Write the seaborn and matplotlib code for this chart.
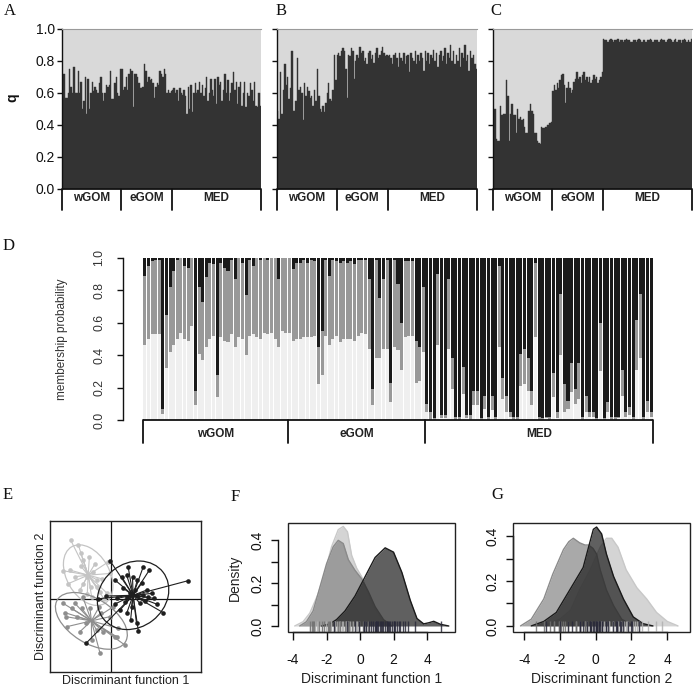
import numpy as np
import pandas as pd
import matplotlib
matplotlib.use("Agg")
import matplotlib.pyplot as plt
import seaborn as sns
from matplotlib.patches import Ellipse, Rectangle

groups = ["wGOM", "eGOM", "MED"]

# ---------------- Panels A-C : q per individual ----------------
qA_wgom = [0.47, 0.72, 0.57, 0.57, 0.60, 0.75, 0.64, 0.60, 0.76, 0.60, 0.60, 0.74, 0.60, 0.67, 0.50,
           0.55, 0.70, 0.47, 0.69, 0.50, 0.60, 0.67, 0.61, 0.64, 0.62, 0.60, 0.66, 0.70, 0.60, 0.55,
           0.60, 0.65, 0.64, 0.65, 0.74, 0.56, 0.56, 0.66, 0.70, 0.60, 0.58, 0.75]
qA_egom = [0.75, 0.62, 0.64, 0.70, 0.62, 0.72, 0.75, 0.74, 0.51, 0.72, 0.72, 0.70, 0.66, 0.63, 0.63,
           0.64, 0.78, 0.74, 0.67, 0.70, 0.68, 0.69, 0.66, 0.57, 0.64, 0.66, 0.65, 0.74, 0.72, 0.70,
           0.75, 0.72, 0.60, 0.62, 0.60, 0.61]
qA_med = [0.62, 0.63, 0.60, 0.62, 0.55, 0.63, 0.60, 0.59, 0.62, 0.58, 0.47, 0.64, 0.50, 0.65, 0.48,
          0.60, 0.66, 0.60, 0.62, 0.67, 0.60, 0.65, 0.58, 0.63, 0.70, 0.55, 0.60, 0.69, 0.62, 0.58,
          0.69, 0.53, 0.70, 0.65, 0.67, 0.55, 0.62, 0.72, 0.60, 0.68, 0.55, 0.60, 0.66, 0.73, 0.62,
          0.67, 0.53, 0.64, 0.67, 0.52, 0.60, 0.67, 0.51, 0.60, 0.58, 0.66, 0.62, 0.55, 0.67, 0.52,
          0.51, 0.60, 0.52]

qB_wgom = [0.49, 0.44, 0.73, 0.47, 0.62, 0.78, 0.65, 0.70, 0.56, 0.63, 0.86, 0.49, 0.49, 0.55, 0.82,
           0.62, 0.64, 0.60, 0.43, 0.66, 0.58, 0.64, 0.61, 0.57, 0.58, 0.52, 0.62, 0.55, 0.75, 0.58,
           0.50, 0.48, 0.52, 0.48, 0.54, 0.60, 0.66, 0.56, 0.55, 0.62, 0.84, 0.68]
qB_egom = [0.84, 0.85, 0.83, 0.86, 0.88, 0.86, 0.75, 0.57, 0.84, 0.83, 0.88, 0.86, 0.69, 0.80, 0.84,
           0.82, 0.89, 0.85, 0.86, 0.80, 0.82, 0.78, 0.85, 0.86, 0.81, 0.84, 0.79, 0.85, 0.88, 0.82,
           0.84, 0.86, 0.89, 0.85, 0.83, 0.84]
qB_med = [0.83, 0.84, 0.82, 0.78, 0.84, 0.85, 0.82, 0.76, 0.85, 0.82, 0.80, 0.85, 0.78, 0.83, 0.84,
          0.73, 0.85, 0.82, 0.80, 0.86, 0.78, 0.84, 0.80, 0.85, 0.82, 0.74, 0.86, 0.80, 0.85, 0.78,
          0.84, 0.82, 0.87, 0.80, 0.85, 0.76, 0.84, 0.86, 0.80, 0.83, 0.88, 0.78, 0.85, 0.82, 0.90,
          0.80, 0.86, 0.78, 0.84, 0.80, 0.88, 0.76, 0.85, 0.82, 0.90, 0.80, 0.84, 0.74, 0.86, 0.82,
          0.84, 0.78, 0.75]

qC_wgom = [0.33, 0.50, 0.31, 0.30, 0.30, 0.52, 0.46, 0.47, 0.47, 0.68, 0.58, 0.30, 0.47, 0.53, 0.46,
           0.46, 0.35, 0.50, 0.44, 0.45, 0.43, 0.44, 0.39, 0.35, 0.35, 0.49, 0.53, 0.49, 0.47, 0.35,
           0.35, 0.30, 0.29, 0.28, 0.39, 0.38, 0.38, 0.39, 0.40, 0.40, 0.41, 0.42]
qC_egom = [0.61, 0.65, 0.62, 0.66, 0.63, 0.68, 0.71, 0.72, 0.65, 0.54, 0.63, 0.67, 0.63, 0.60, 0.62,
           0.67, 0.69, 0.73, 0.69, 0.70, 0.66, 0.71, 0.73, 0.68, 0.70, 0.67, 0.70, 0.66, 0.68, 0.71,
           0.69, 0.70, 0.66, 0.68, 0.70, 0.73]
qC_med = [0.94, 0.93, 0.93, 0.92, 0.93, 0.94, 0.93, 0.92, 0.93, 0.93, 0.94, 0.92, 0.93, 0.93, 0.92,
          0.93, 0.94, 0.93, 0.93, 0.92, 0.92, 0.93, 0.93, 0.92, 0.93, 0.94, 0.93, 0.92, 0.93, 0.93,
          0.92, 0.93, 0.93, 0.94, 0.93, 0.92, 0.93, 0.93, 0.93, 0.92, 0.93, 0.94, 0.93, 0.93, 0.92,
          0.93, 0.94, 0.94, 0.93, 0.92, 0.93, 0.94, 0.92, 0.93, 0.93, 0.91, 0.93, 0.94, 0.93, 0.92,
          0.93, 0.92, 0.94]

# ---------------- Panel D : membership probability ----------------
# cumulative: light = cluster 1, light+gray = cluster 1 + 2, black = remainder
memb_light_wgom = [0.46, 0.50, 0.53, 0.53, 0.53, 0.04, 0.32, 0.42, 0.46, 0.50, 0.54, 0.50, 0.49, 0.58, 0.09,
                   0.41, 0.37, 0.45, 0.50, 0.52, 0.14, 0.51, 0.49, 0.48, 0.53, 0.45, 0.51, 0.50, 0.40, 0.52,
                   0.53, 0.51, 0.50, 0.54, 0.53, 0.54, 0.50, 0.45, 0.55, 0.54]
memb_lg_wgom = [0.89, 0.95, 0.98, 0.99, 0.99, 0.07, 0.65, 0.82, 0.92, 0.99, 1.00, 0.95, 0.94, 1.00, 0.18,
                0.82, 0.73, 0.88, 0.97, 0.96, 0.28, 0.97, 0.94, 0.92, 0.99, 0.87, 1.00, 0.97, 0.77, 0.99,
                0.95, 1.00, 0.99, 1.00, 0.99, 1.00, 1.00, 0.87, 1.00, 1.00]
memb_light_egom = [0.54, 0.49, 0.50, 0.50, 0.51, 0.51, 0.51, 0.52, 0.22, 0.28, 0.52, 0.46, 0.50, 0.52, 0.48,
                   0.50, 0.50, 0.50, 0.49, 0.52, 0.54, 0.53, 0.44, 0.09, 0.38, 0.38, 0.44, 0.44, 0.11, 0.45,
                   0.43, 0.31, 0.51, 0.52, 0.52, 0.23, 0.24, 0.42]
memb_lg_egom = [1.00, 0.93, 0.97, 0.97, 0.99, 0.97, 0.99, 0.98, 0.45, 0.55, 0.99, 0.89, 0.99, 0.98, 0.97,
                0.98, 0.97, 0.98, 0.96, 0.99, 0.99, 0.99, 0.87, 0.19, 0.99, 0.75, 0.87, 0.99, 0.23, 0.99,
                0.84, 0.60, 0.98, 0.98, 0.98, 0.49, 0.45, 0.82]
memb_light_med = [0.05, 0.00, 0.00, 0.46, 0.01, 0.01, 0.44, 0.19, 0.00, 0.00, 0.16, 0.01, 0.00, 0.09, 0.09,
                  0.00, 0.07, 0.00, 0.06, 0.00, 0.45, 0.13, 0.05, 0.02, 0.00, 0.00, 0.21, 0.22, 0.18, 0.09,
                  0.51, 0.00, 0.00, 0.01, 0.00, 0.14, 0.01, 0.40, 0.05, 0.07, 0.17, 0.10, 0.13, 0.00, 0.05,
                  0.02, 0.02, 0.00, 0.30, 0.00, 0.05, 0.00, 0.00, 0.01, 0.15, 0.02, 0.03, 0.00, 0.31, 0.38,
                  0.00, 0.05, 0.02]
memb_lg_med = [0.10, 0.05, 0.01, 0.90, 0.03, 0.03, 0.87, 0.38, 0.02, 0.02, 0.33, 0.03, 0.03, 0.18, 0.18,
               0.01, 0.15, 0.02, 0.15, 0.02, 0.95, 0.26, 0.15, 0.05, 0.02, 0.02, 0.41, 0.44, 0.38, 0.18,
               0.97, 0.02, 0.01, 0.02, 0.02, 0.29, 0.05, 0.78, 0.22, 0.12, 0.35, 0.19, 0.35, 0.02, 0.15,
               0.05, 0.05, 0.01, 0.60, 0.01, 0.11, 0.02, 0.02, 0.02, 0.31, 0.05, 0.08, 0.02, 0.62, 0.78,
               0.02, 0.12, 0.05]

# ---------------- Panel E : DAPC scores ----------------
e_light_x = [-2.52, -2.04, -1.73, -1.35, -1.88, -2.98, -2.56, -2.25, -1.52, -1.10, -0.85, -0.58, -1.73,
             -1.27, -0.85, -1.94, -1.48, -0.69, -0.23, -0.44, -1.90, -1.00, -0.05, -1.20, -2.70, -0.20]
e_light_y = [3.69, 3.38, 2.44, 2.60, 2.06, 1.77, 1.81, 1.40, 1.40, 1.71, 1.19, 1.27, 0.94,
             0.73, 0.73, 0.56, 0.31, 0.46, 0.35, 0.02, 2.90, 2.20, 1.60, 0.10, 0.95, 2.30]
e_mid_x = [-2.98, -2.88, -2.83, -2.46, -2.25, -1.77, -1.83, -2.15, -1.31, -0.73, -0.65, -0.06, 0.15,
           -1.56, -1.94, -0.90, -0.48, 0.46, 0.25, -1.21, -2.77, 0.88, 0.35, -0.69]
e_mid_y = [-0.27, -0.85, -1.10, -0.58, -0.27, 0.15, -0.58, -1.10, -0.58, -0.48, -0.90, -1.10, -0.48,
           -1.52, -2.04, -1.94, -2.04, -1.83, -2.35, -2.56, -1.73, -2.88, -2.35, -3.35]
e_dark_x = [-0.06, 1.08, 2.02, 2.40, 4.83, 0.25, 0.67, 0.98, 1.35, 1.65, 1.92, 2.23, 2.54, 2.69, 2.33,
            2.02, 3.27, 1.71, 1.60, 1.23, 0.98, 0.56, 0.25, -0.31, -0.79, -1.56, 0.77, 1.19, 1.50, 1.81,
            0.88, 0.35, 2.85, 1.29, 1.00, 1.60, 2.10]
e_dark_y = [2.40, 1.98, 2.02, 1.81, 1.15, 1.19, 1.40, 1.50, 1.35, 1.19, 0.98, 0.56, 0.35, 0.04, 0.10,
            0.25, -0.85, -1.98, -1.52, -1.31, -0.90, -0.69, -0.31, 0.19, 0.02, -2.77, 0.67, 0.35, 0.56, -0.27,
            -0.17, 0.04, -0.31, -0.48, 0.10, 0.20, -0.10]

# ---------------- Panels F-G : densities ----------------
f_light_x = [-3.9, -3.4, -3.0, -2.5, -2.1, -1.7, -1.3, -1.0, -0.75, -0.5, -0.2, 0.1, 0.4, 0.8, 1.3, 1.9]
f_light_y = [0.0, 0.02, 0.06, 0.15, 0.25, 0.37, 0.45, 0.465, 0.44, 0.33, 0.27, 0.23, 0.17, 0.09, 0.03, 0.0]
f_mid_x = [-3.6, -3.2, -2.8, -2.4, -2.0, -1.6, -1.3, -1.0, -0.7, -0.3, 0.1, 0.5, 0.9, 1.4, 1.9]
f_mid_y = [0.0, 0.02, 0.07, 0.18, 0.29, 0.37, 0.40, 0.385, 0.31, 0.26, 0.22, 0.16, 0.09, 0.03, 0.0]
f_dark_x = [-2.3, -1.8, -1.4, -0.9, -0.3, 0.3, 0.9, 1.5, 2.0, 2.5, 3.0, 3.4, 3.8, 4.1, 4.4, 4.8, 5.3]
f_dark_y = [0.0, 0.01, 0.03, 0.07, 0.14, 0.23, 0.32, 0.365, 0.345, 0.25, 0.12, 0.035, 0.01, 0.015, 0.022, 0.008, 0.0]

g_mid_x = [-4.2, -3.6, -2.9, -2.4, -1.8, -1.5, -1.25, -0.9, -0.6, -0.4, -0.15, 0.05, 0.25, 0.6, 1.0, 1.45, 2.1]
g_mid_y = [0.0, 0.03, 0.12, 0.23, 0.34, 0.375, 0.39, 0.37, 0.36, 0.36, 0.345, 0.32, 0.25, 0.16, 0.09, 0.03, 0.0]
g_light_x = [-2.9, -2.0, -1.4, -0.9, -0.3, 0.25, 0.6, 0.9, 1.25, 1.7, 2.3, 2.85, 3.4, 4.0, 4.6]
g_light_y = [0.0, 0.03, 0.07, 0.16, 0.25, 0.35, 0.39, 0.39, 0.35, 0.25, 0.17, 0.12, 0.06, 0.02, 0.0]
g_dark_x = [-3.6, -2.9, -2.2, -1.6, -1.15, -0.7, -0.4, -0.13, 0.05, 0.33, 0.6, 1.0, 1.55, 2.1, 2.65, 3.2]
g_dark_y = [0.0, 0.02, 0.06, 0.14, 0.2, 0.26, 0.35, 0.43, 0.44, 0.41, 0.32, 0.22, 0.12, 0.04, 0.01, 0.0]

# ---------------- styling ----------------
sns.set_theme(style="ticks")
plt.rcParams["font.family"] = ["Liberation Sans", "DejaVu Sans"]
plt.rcParams["axes.unicode_minus"] = False
plt.rcParams.update({"axes.edgecolor": "#111111", "xtick.color": "#111111", "ytick.color": "#111111",
                     "text.color": "#111111", "axes.labelcolor": "#111111", "axes.linewidth": 1.0})

W, H = 696, 692
fig = plt.figure(figsize=(W / 100, H / 100), dpi=100)


def px_axes(x0, y0, x1, y1):
    return fig.add_axes([x0 / W, 1 - y1 / H, (x1 - x0) / W, (y1 - y0) / H])


def bracket(ax, sizes, drop, lab_off, fs, lw=1.3):
    bounds = np.concatenate([[0], np.cumsum(sizes)]) - 0.5
    tr = ax.get_xaxis_transform()
    ax.plot([bounds[0], bounds[-1]], [0, 0], transform=tr, color="#111111", lw=lw, clip_on=False,
            solid_capstyle="butt")
    for b in bounds:
        ax.plot([b, b], [0, -drop], transform=tr, color="#111111", lw=lw, clip_on=False)
    for i, g in enumerate(groups):
        ax.text((bounds[i] + bounds[i + 1]) / 2, -lab_off, g, transform=tr, ha="center", va="center",
                fontsize=fs, fontweight="bold", color="#222222")


def structure_panel(ax, wg, eg, med, show_labels):
    q = wg + eg + med
    n = len(q)
    df = pd.DataFrame({"ind": np.arange(n), "q": q})
    ax.set_facecolor("#d9d9d9")
    sns.barplot(data=df, x="ind", y="q", native_scale=True, color="#333333", saturation=1, width=1,
                errorbar=None, linewidth=0.3, edgecolor="#333333", ax=ax)
    ax.set_xlim(-0.5, n - 0.5)
    ax.set_ylim(0, 1)
    ax.set_yticks([0, 0.2, 0.4, 0.6, 0.8, 1.0])
    if show_labels:
        ax.set_yticklabels(["0.0", "0.2", "0.4", "0.6", "0.8", "1.0"], fontsize=10)
        ax.set_ylabel("q", fontsize=10, fontweight="bold")
        ax.yaxis.label.set_va("center")
        ax.yaxis.set_label_coords(-50 / 199, 0.57)
    else:
        ax.set_yticklabels([])
        ax.set_ylabel("")
    ax.set_xlabel("")
    ax.set_xticks([])
    ax.tick_params(axis="y", length=3.5, width=1, pad=1.5, left=True)
    for s in ["right", "bottom"]:
        ax.spines[s].set_visible(False)
    ax.spines["top"].set_color("#9a9a9a")
    ax.spines["top"].set_linewidth(0.8)
    bracket(ax, [len(wg), len(eg), len(med)], 21 / 160, 9 / 160, 8.5)


axA = px_axes(62, 29, 261, 189)
structure_panel(axA, qA_wgom, qA_egom, qA_med, True)
axB = px_axes(277, 29, 477, 189)
structure_panel(axB, qB_wgom, qB_egom, qB_med, False)
axC = px_axes(493, 29, 692, 189)
structure_panel(axC, qC_wgom, qC_egom, qC_med, False)

# ---------------- D ----------------
axD = px_axes(143, 258, 653, 420)
light = memb_light_wgom + memb_light_egom + memb_light_med
lg = memb_lg_wgom + memb_lg_egom + memb_lg_med
nD = len(light)
idx = np.arange(nD)
kw = dict(native_scale=True, saturation=1, width=0.84, errorbar=None, linewidth=0, ax=axD)
sns.barplot(x=idx, y=np.ones(nD), color="#1a1a1a", **kw)
sns.barplot(x=idx, y=lg, color="#999999", **kw)
sns.barplot(x=idx, y=light, color="#efefef", **kw)
for s in ["top", "right", "bottom"]:
    axD.spines[s].set_visible(False)
axD.spines["left"].set_position(("outward", 14.5))
axD.spines["left"].set_bounds(0, 1)
axD.set_xlim(-0.5, nD - 0.5)
axD.set_ylim(0, 1)
axD.set_xticks([])
axD.set_yticks([0, 0.2, 0.4, 0.6, 0.8, 1.0])
axD.set_yticklabels(["0.0", "0.2", "0.4", "0.6", "0.8", "1.0"], rotation=90, va="center",
                    fontsize=8.8, color="#333333")
axD.tick_params(axis="y", length=4.5, width=1, pad=8, left=True)
axD.set_ylabel("membership probability", fontsize=8.5, color="#333333")
axD.yaxis.label.set_va("center")
axD.yaxis.set_label_coords(-81 / 510, 0.5)
axD.set_xlabel("")
bracket(axD, [len(memb_light_wgom), len(memb_light_egom), len(memb_light_med)], 23 / 162, 14 / 162, 8.5)

# ---------------- E ----------------
axE = px_axes(50, 521, 201, 672)
axE.axhline(0, color="#111111", lw=0.9, zorder=1)
axE.axvline(0, color="#111111", lw=0.9, zorder=1)
e_sets = [(e_light_x, e_light_y, "#c4c4c4"), (e_mid_x, e_mid_y, "#8e8e8e"), (e_dark_x, e_dark_y, "#1e1e1e")]
for k, (xs, ys, col) in enumerate(e_sets):
    xs = np.asarray(xs); ys = np.asarray(ys)
    cx, cy = xs.mean(), ys.mean()
    for x, y in zip(xs, ys):
        axE.plot([cx, x], [cy, y], color=col, lw=0.8, zorder=2 + k)
    vals, vecs = np.linalg.eigh(np.cov(xs, ys))
    ang = np.degrees(np.arctan2(vecs[1, 1], vecs[0, 1]))
    axE.add_patch(Ellipse((cx, cy), 2 * 1.9 * np.sqrt(vals[1]), 2 * 1.9 * np.sqrt(vals[0]), angle=ang,
                          fill=False, ec=col, lw=0.9, zorder=2 + k))
    sns.scatterplot(x=xs, y=ys, color=col, s=11, linewidth=0, ax=axE, zorder=2.5 + k)
axE.set_xlim(-3.81, 5.63)
axE.set_ylim(-4.56, 4.88)
axE.set_xticks([]); axE.set_yticks([])
for s in axE.spines.values():
    s.set_visible(True); s.set_linewidth(1.0); s.set_color("#222222")
axE.set_xlabel("Discriminant function 1", fontsize=9, color="#222222", labelpad=2)
axE.set_ylabel("Discriminant function 2", fontsize=9, color="#222222", labelpad=2)


# ---------------- F, G ----------------
def density_panel(ax, curves, rugs, xlim, ylim, offset_left, xlabel, ylabel):
    for k, (x, y, fc, lc) in enumerate(curves):
        ax.fill_between(x, y, color=fc, alpha=0.7, lw=0, zorder=2 + k)
        sns.lineplot(x=x, y=y, color=lc, lw=1.0, ax=ax, sort=False, estimator=None, zorder=2.5 + k)
    for r, col in rugs:
        sns.rugplot(x=r, height=0.1, color=col, lw=0.7, alpha=0.85, ax=ax, zorder=6)
    ax.spines["top"].set_visible(False)
    ax.spines["right"].set_visible(False)
    if offset_left:
        ax.spines["left"].set_position(("outward", offset_left))
    ax.spines["bottom"].set_bounds(-4, 4)
    ax.spines["left"].set_bounds(0, 0.4)
    ax.set_xlim(*xlim)
    ax.set_ylim(*ylim)
    ax.set_xticks([-4, -2, 0, 2, 4])
    ax.set_xticklabels(["-4", "-2", "0", "2", "4"], fontsize=10)
    ax.set_yticks([0, 0.1, 0.2, 0.3, 0.4])
    ax.set_yticklabels(["0.0", "", "0.2", "", "0.4"], rotation=90, va="center", fontsize=10)
    ax.tick_params(axis="x", length=6, width=1, pad=9, bottom=True)
    ax.tick_params(axis="y", length=5, width=1, pad=5, left=True)
    ax.add_patch(Rectangle((0, 0), 1, 1, transform=ax.transAxes, fill=False, ec="#222222", lw=1.0,
                           clip_on=False, zorder=7))
    ax.set_xlabel(xlabel, fontsize=10, color="#222222", labelpad=4)
    ax.set_ylabel(ylabel, fontsize=10, color="#222222")


axF = px_axes(288, 523, 455, 632)
density_panel(axF,
              [(f_light_x, f_light_y, "#c3c3c3", "#c8c8c8"),
               (f_mid_x, f_mid_y, "#858585", "#8a8a8a"),
               (f_dark_x, f_dark_y, "#1c1c1c", "#1a1a1a")],
              [(e_light_x, "#b0b0b0"), (e_mid_x, "#707070"), (e_dark_x, "#2a2a3a")],
              (-4.3, 5.67), (-0.028, 0.481), 7, "Discriminant function 1", "Density")
axF.yaxis.label.set_va("center")
axF.yaxis.set_label_coords(-53 / 167, 0.5)

axG = px_axes(513, 523, 690, 632)
density_panel(axG,
              [(g_light_x, g_light_y, "#c3c3c3", "#c8c8c8"),
               (g_mid_x, g_mid_y, "#858585", "#8a8a8a"),
               (g_dark_x, g_dark_y, "#1c1c1c", "#1a1a1a")],
              [(e_light_y, "#b0b0b0"), (e_mid_y, "#707070"), (e_dark_y, "#2a2a3a")],
              (-4.62, 5.27), (-0.027, 0.458), 0, "Discriminant function 2", "")

# ---------------- panel letters ----------------
for lab, x, y in [("A", 10, 11), ("B", 281, 11), ("C", 496, 11), ("D", 9, 246),
                  ("E", 8, 495), ("F", 235, 497), ("G", 497, 495)]:
    fig.text(x / W, 1 - y / H, lab, ha="center", va="center", fontsize=12,
             family=["Liberation Serif", "DejaVu Serif"], color="#111111")

fig.savefig("out.png", dpi=100)
